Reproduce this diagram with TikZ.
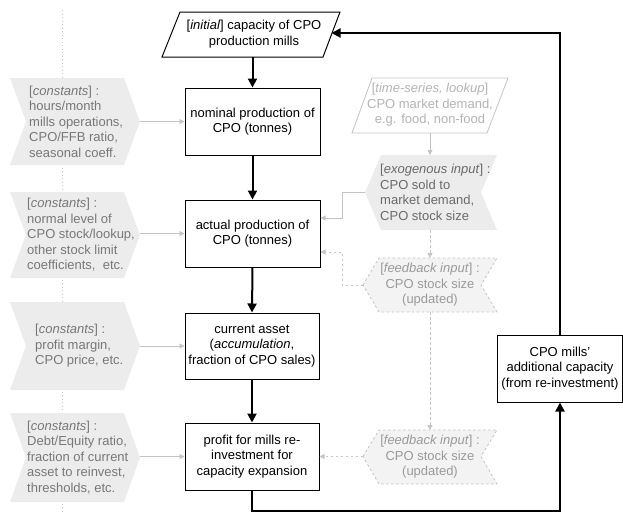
\documentclass[tikz,border=0pt]{standalone}
\usepackage{fontspec}
\setmainfont{Liberation Sans}
\usetikzlibrary{arrows.meta}
\definecolor{chevfill}{HTML}{ECECEC}
\definecolor{fbfill}{HTML}{F3F3F3}
\definecolor{ctext}{HTML}{787878}
\definecolor{tstext}{HTML}{B4B4B4}
\definecolor{exotext}{HTML}{6A6A6A}
\definecolor{fbtext}{HTML}{9A9A9A}
\definecolor{gline}{HTML}{C4C4C4}
\newcommand{\fs}{\fontsize{13}{15.5}\selectfont}
\begin{document}
\begin{tikzpicture}[x=1pt,y=-1pt,
  box/.style={draw=black, line width=1pt, fill=white, align=center, inner sep=0pt, font=\fs},
  txt/.style={align=center, inner sep=0pt, font=\fs},
  ltxt/.style={align=left, inner sep=0pt, font=\fs, anchor=west},
  main/.style={-{Triangle[length=9pt,width=9pt]}, line width=2pt},
  garrow/.style={-{Triangle[length=5pt,width=5pt]}, draw=gline, line width=0.8pt},
  gdash/.style={garrow, dash pattern=on 2.5pt off 2.5pt},
  fbchev/.style={fill=fbfill, draw=gline, line width=0.8pt, dash pattern=on 2.5pt off 2.5pt}
]
\useasboundingbox (0,0) rectangle (623,512);
% left dotted guide
\draw[gline, line width=0.8pt, dash pattern=on 1pt off 2.5pt] (62,10) -- (62,512);

% left constant chevrons
\foreach \t/\b in {78/165, 192/278, 302/390, 413/502}{
  \fill[chevfill] (10,\t) -- (124,\t) -- (140,{(\t+\b)/2}) -- (124,\b) -- (10,\b) -- (26,{(\t+\b)/2}) -- cycle;
}
\node[ltxt, text=ctext] (c1) at (29,121.5) {[\textit{constants}] :\\hours/month\\mills operations,\\CPO/FFB ratio,\\seasonal coeff.};
\node[ltxt, text=ctext] (c2) at (27,235) {[\textit{constants}] :\\normal level of\\CPO stock/lookup,\\other stock limit\\coefficients,\ \ etc.};
\node[ltxt, text=ctext] (c3) at (35,346) {[\textit{constants}] :\\profit margin,\\CPO price, etc.};
\node[ltxt, text=ctext] (c4) at (27,457.5) {[\textit{constants}] :\\Debt/Equity ratio,\\fraction of current\\asset to reinvest,\\thresholds, etc.};
\coordinate (c1tip) at (140,121.5);
\coordinate (c2tip) at (140,233.5);
\coordinate (c3tip) at (140,346);
\coordinate (c4tip) at (140,456.5);

% initial parallelogram
\draw[line width=1pt, fill=white] (162,57) -- (180,12) -- (340,12) -- (323,57) -- cycle;
\node[txt] (init) at (254,34) {[\textit{initial}] capacity of CPO\\production mills};
\coordinate (initS) at (252.5,57);
\coordinate (initE) at (331.5,33);

% main boxes
\node[box, minimum width=135pt, minimum height=67pt] (nom) at (252.5,121.5) {nominal production of\\CPO (tonnes)};
\node[box, minimum width=135pt, minimum height=67pt] (act) at (252.5,233.5) {actual production of\\CPO (tonnes)};
\node[box, minimum width=134pt, minimum height=66pt] (cur) at (252,346) {current asset\\(\textit{accumulation},\\fraction of CPO sales)};
\node[box, minimum width=134pt, minimum height=67pt] (prof) at (252,456.5) {profit for mills re-\\investment for\\capacity expansion};
\node[box, minimum width=125pt, minimum height=67pt] (add) at (560,368.5) {CPO mills'\\additional capacity\\(from re-investment)};

% main arrows
\draw[main] (initS) -- (nom.north);
\draw[main] (nom.south) -- (act.north);
\draw[main] (act.south) -- (cur.north);
\draw[main] (cur.south) -- (prof.north);
\draw[main] (prof.south) -- ++(0,20) -| (add.south);
\draw[main] (add.north) |- (initE);

% constants arrows
\draw[garrow] (c1tip) -- (nom.west);
\draw[garrow] (c2tip) -- (act.west);
\draw[garrow] (c3tip) -- (cur.west);
\draw[garrow] (c4tip) -- (prof.west);

% time-series parallelogram
\draw[gline, line width=0.8pt, fill=white] (352,133) -- (372,78) -- (508,78) -- (487,133) -- cycle;
\node[txt, text=tstext] (ts) at (430,105) {[\textit{time-series, lookup}]\\CPO market demand,\\e.g. food, non-food};
\coordinate (tsS) at (430,133);

% exogenous chevron
\fill[chevfill] (365,192.5) -- (381,155) -- (497,155) -- (481,192.5) -- (497,230) -- (381,230) -- cycle;
\node[ltxt, text=exotext] (exo) at (380,192.5) {[\textit{exogenous input}] :\\CPO sold to\\market demand,\\CPO stock size};
\coordinate (exoN) at (430,155);
\coordinate (exoS) at (430,230);
\coordinate (exoW) at (365,192.5);

% feedback chevrons
\draw[fbchev] (363,285) -- (379,258) -- (497,258) -- (481,285) -- (497,312) -- (379,312) -- cycle;
\node[txt, text=fbtext] (fb1) at (430,285) {[\textit{feedback input}] :\\CPO stock size\\(updated)};
\coordinate (fb1N) at (430,258);
\coordinate (fb1S) at (430,312);
\coordinate (fb1W) at (363,285);

\draw[fbchev] (363,456.5) -- (379,430) -- (497,430) -- (481,456.5) -- (497,484) -- (379,484) -- cycle;
\node[txt, text=fbtext] (fb2) at (430,457) {[\textit{feedback input}] :\\CPO stock size\\(updated)};
\coordinate (fb2N) at (430,430);
\coordinate (fb2W) at (363,456.5);

% gray connectors
\draw[garrow] (tsS) -- (exoN);
\draw[garrow] (exoW) -- (342,192.5) |- ([yshift=15.5pt]act.east);
\draw[gdash] (exoS) -- (fb1N);
\draw[gdash] (fb1W) -- (342,285) |- ([yshift=-18.5pt]act.east);
\draw[gdash] (fb1S) -- (fb2N);
\draw[gdash] (fb2W) -- (prof.east);
\end{tikzpicture}
\end{document}
